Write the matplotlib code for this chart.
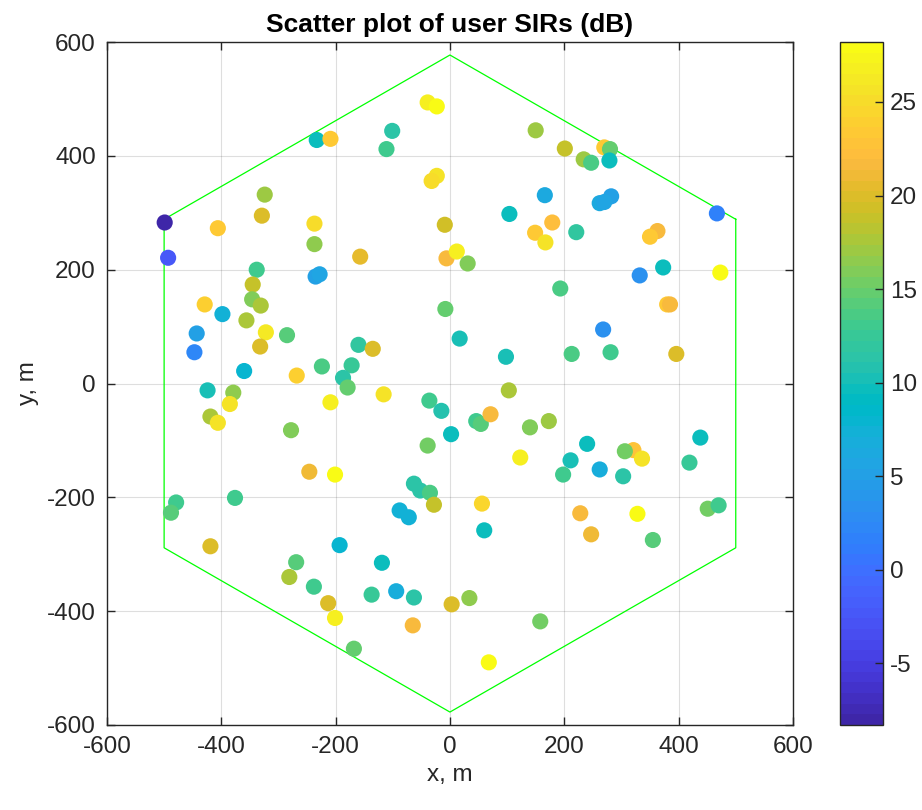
import numpy as np
import matplotlib
matplotlib.use("Agg")
import matplotlib.pyplot as plt
from matplotlib.colors import ListedColormap

# user positions (m) and SIR (dB)
x_m = [-233, -209, -324, -329, -499, -406, -237, -237, -493, -338,
       -101, -111, -39, -23, 150, 201, -23, -32, 166, 104,
       179, 149, 167, -9, -157, -6, 12, 31,
       270, 280, 234, 247, 279, 282, 262, 270, 467, 221,
       363, 350, 373, 332, 473,
       -235, -228, -345, -346, -331, -429, -398, -356, -322, -332,
       -285, -443, -447, -360, -268, -224, -424, -379, -385, -419,
       -406, -278, -209, -246, -201,
       193, -8, 17, 98, -160, -135, -172, -187, -179, -116,
       -36, -15, 46, 54, 71, 103, 140, 173, 2, -39,
       123, 198, -63, -52, -35,
       380, 385, 268, 213, 281, 396, 438, 240, 211, 262,
       303, 321, 306, 336, 419,
       -479, -488, -376, -419, -193, -269, -281, -238, -213, -201,
       -28, 56, -88, -72, 60, -119, -137, -94, -63, 3,
       34, -65, -168, 158, 68,
       228, 247, 328, 355, 451, 470]
y_m = [428, 430, 332, 295, 283, 273, 281, 245, 221, 200,
       444, 412, 494, 487, 445, 413, 365, 356, 331, 298,
       283, 265, 248, 279, 223, 220, 232, 211,
       415, 412, 394, 388, 392, 329, 317, 319, 299, 266,
       268, 258, 204, 190, 195,
       188, 192, 174, 148, 137, 139, 122, 111, 90, 65,
       85, 88, 55, 22, 14, 30, -12, -16, -36, -58,
       -69, -82, -33, -155, -160,
       167, 131, 79, 47, 68, 61, 32, 10, -7, -19,
       -30, -48, -66, -71, -54, -12, -77, -66, -89, -109,
       -130, -160, -176, -188, -192,
       139, 139, 95, 52, 55, 52, -95, -106, -135, -151,
       -163, -117, -119, -132, -139,
       -209, -227, -201, -286, -284, -314, -340, -357, -386, -412,
       -213, -211, -223, -235, -258, -315, -371, -365, -376, -388,
       -377, -425, -466, -418, -490,
       -228, -265, -229, -275, -220, -214]
sir_db = [9.5, 23.5, 17, 20, -8.3, 23.5, 25, 16.5, -2.5, 13,
          11.5, 13, 27, 28, 17, 19, 25.5, 25, 6, 9.5,
          22, 23.5, 25.5, 19.5, 20.5, 21.5, 27, 16,
          23.5, 15, 17, 13.5, 9.5, 5, 6, 5.5, 1.5, 12,
          21.5, 23.5, 9.5, 3.5, 28,
          5, 5.5, 19, 16, 17.5, 24, 7.5, 17.5, 26, 20,
          14, 5, 2, 8, 24, 13.5, 10.5, 16.5, 25.5, 17.5,
          25.5, 16, 27, 21, 28.2,
          13.5, 15, 10, 10.5, 12, 20, 12.5, 11.5, 15, 25.5,
          13, 11, 13, 14, 21.5, 17.5, 16, 17, 9.5, 15.5,
          27, 13, 11.5, 11.5, 13.5,
          23.5, 21.5, 3.5, 13.5, 13, 20, 9.5, 9.5, 10.5, 7,
          11.5, 22.5, 15.5, 25.5, 12.5,
          13, 14.5, 13, 20, 8, 14.5, 17.5, 13, 20, 27,
          19, 24.5, 7.5, 7.5, 9.5, 9.5, 12.5, 7, 11.5, 20,
          16.5, 21.5, 15, 15.5, 28.2,
          21.5, 21, 28, 14.5, 15.5, 13]

isd = 1000  # inter-site distance, hexagon cell

# MATLAB parula (64 entries)
parula = ListedColormap([
    [0.2422, 0.1504, 0.6603], [0.2504, 0.1650, 0.7076], [0.2578, 0.1818, 0.7511], [0.2647, 0.1978, 0.7952],
    [0.2706, 0.2147, 0.8364], [0.2751, 0.2342, 0.8710], [0.2783, 0.2559, 0.8991], [0.2803, 0.2782, 0.9221],
    [0.2813, 0.3006, 0.9414], [0.2810, 0.3228, 0.9579], [0.2795, 0.3447, 0.9717], [0.2760, 0.3667, 0.9829],
    [0.2699, 0.3892, 0.9906], [0.2602, 0.4123, 0.9952], [0.2440, 0.4358, 0.9988], [0.2206, 0.4603, 0.9973],
    [0.1963, 0.4847, 0.9892], [0.1834, 0.5074, 0.9798], [0.1786, 0.5289, 0.9682], [0.1764, 0.5499, 0.9520],
    [0.1687, 0.5703, 0.9359], [0.1540, 0.5902, 0.9218], [0.1460, 0.6091, 0.9079], [0.1380, 0.6276, 0.8973],
    [0.1248, 0.6459, 0.8883], [0.1113, 0.6635, 0.8763], [0.0952, 0.6798, 0.8598], [0.0689, 0.6948, 0.8394],
    [0.0297, 0.7082, 0.8163], [0.0036, 0.7203, 0.7917], [0.0067, 0.7312, 0.7660], [0.0433, 0.7411, 0.7394],
    [0.0964, 0.7500, 0.7120], [0.1408, 0.7584, 0.6842], [0.1717, 0.7670, 0.6554], [0.1938, 0.7758, 0.6251],
    [0.2161, 0.7843, 0.5923], [0.2470, 0.7918, 0.5567], [0.2906, 0.7973, 0.5188], [0.3406, 0.8008, 0.4789],
    [0.3909, 0.8029, 0.4354], [0.4456, 0.8024, 0.3909], [0.5044, 0.7993, 0.3480], [0.5616, 0.7942, 0.3045],
    [0.6174, 0.7876, 0.2612], [0.6720, 0.7793, 0.2227], [0.7242, 0.7698, 0.1910], [0.7738, 0.7598, 0.1646],
    [0.8203, 0.7498, 0.1535], [0.8634, 0.7406, 0.1596], [0.9035, 0.7330, 0.1774], [0.9393, 0.7288, 0.2100],
    [0.9728, 0.7298, 0.2394], [0.9956, 0.7434, 0.2371], [0.9970, 0.7659, 0.2199], [0.9952, 0.7893, 0.2028],
    [0.9892, 0.8136, 0.1885], [0.9786, 0.8386, 0.1766], [0.9676, 0.8639, 0.1643], [0.9610, 0.8890, 0.1537],
    [0.9597, 0.9135, 0.1423], [0.9628, 0.9373, 0.1265], [0.9691, 0.9606, 0.1064], [0.9769, 0.9839, 0.0805]],
    name="parula")

plt.rcParams['font.family'] = ['Liberation Sans', 'DejaVu Sans']
plt.rcParams['axes.unicode_minus'] = False
axc = (0.15, 0.15, 0.15)

fig = plt.figure(figsize=(9.22, 8.10), dpi=100)
ax = fig.add_axes([0.116, 0.105, 0.744, 0.843])
cax = fig.add_axes([0.911, 0.105, 0.047, 0.843])

# hexagonal cell outline
R = isd / np.sqrt(3)
ang = np.deg2rad(np.arange(30, 391, 60))
ax.plot(R * np.cos(ang), R * np.sin(ang), color=(0, 1, 0), lw=0.9, zorder=2)

sc = ax.scatter(x_m, y_m, c=sir_db, cmap=parula, s=135, edgecolors='none', zorder=3)

ax.set_xlim(-600, 600)
ax.set_ylim(-600, 600)
ax.set_xticks(np.arange(-600, 601, 200))
ax.set_yticks(np.arange(-600, 601, 200))
ax.grid(True, color=(0.15, 0.15, 0.15), alpha=0.15, lw=0.8)
ax.set_axisbelow(True)
ax.tick_params(direction='in', length=6, width=1, top=True, right=True,
               labelsize=17.5, colors=axc, pad=8)
for s in ax.spines.values():
    s.set_color(axc)
    s.set_linewidth(1.0)
ax.set_xlabel('x, m', fontsize=17.5, color=axc, labelpad=4)
ax.set_ylabel('y, m', fontsize=17.5, color=axc, labelpad=6)
ax.set_title('Scatter plot of user SIRs (dB)', fontsize=19, fontweight='bold', pad=7)

cb = fig.colorbar(sc, cax=cax)
cb.set_ticks([-5, 0, 5, 10, 15, 20, 25])
cb.ax.tick_params(direction='in', length=6, width=1, labelsize=17.5, colors=axc, pad=5)
cb.outline.set_edgecolor(axc)
cb.outline.set_linewidth(1.0)

fig.savefig("out.png", dpi=100)
